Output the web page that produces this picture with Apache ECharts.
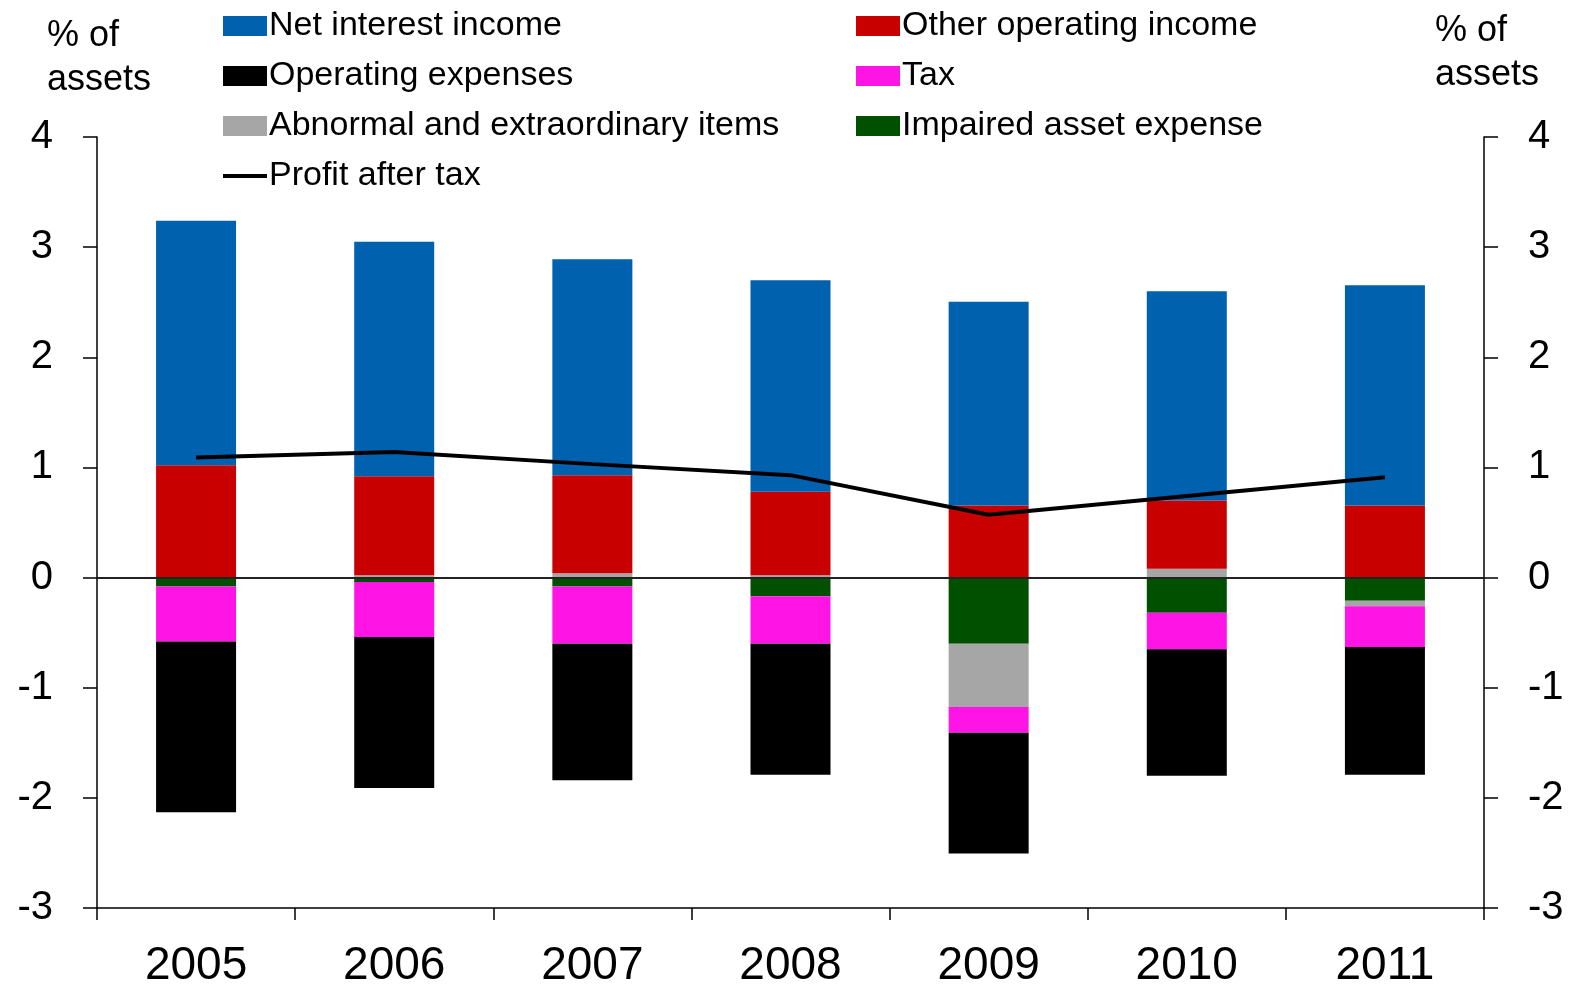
<!DOCTYPE html>
<html>
<head>
<meta charset="utf-8">
<script src="https://cdn.jsdelivr.net/npm/echarts@6/dist/echarts.min.js"></script>
<style>
html,body{margin:0;padding:0;background:#fff;}
#chart{width:1579px;height:989px;}
</style>
</head>
<body>
<div id="chart"></div>
<script>
var years = ['2005','2006','2007','2008','2009','2010','2011'];
var netInterest = [2.22, 2.13, 1.96, 1.92, 1.85, 1.90, 2.00];
var otherIncome = [1.02, 0.90, 0.89, 0.76, 0.655, 0.62, 0.655];
var opex = [-1.55, -1.37, -1.24, -1.19, -1.095, -1.15, -1.16];
var tax = [-0.50, -0.50, -0.52, -0.43, -0.235, -0.33, -0.37];
var abnormal = [0, 0.02, 0.04, 0.02, -0.575, 0.08, -0.05];
var impaired = [-0.08, -0.04, -0.08, -0.17, -0.60, -0.32, -0.21];
var profit = [1.09, 1.14, 1.03, 0.93, 0.57, 0.74, 0.91];

var FONT = '"Liberation Sans", Arial, sans-serif';
var chart = echarts.init(document.getElementById('chart'), null, {renderer: 'canvas'});

function bar(name, data, color, extra) {
  var s = {
    name: name, type: 'bar', stack: 'a', data: data,
    barWidth: 80,
    itemStyle: {color: color},
    emphasis: {disabled: true},
    animation: false
  };
  if (extra) for (var k in extra) s[k] = extra[k];
  return s;
}

var lineIcon = 'path://M0,0 L0.01,0 L0.01,0.01 Z M0,8 L44,8 L44,12 L0,12 Z M43.99,19.99 L44,19.99 L44,20 Z';
var legendText = {fontFamily: FONT, fontSize: 34, color: '#000', lineHeight: 36, padding: [0, 0, 0, -3]};

var option = {
  animation: false,
  textStyle: {fontFamily: FONT, color: '#000'},
  grid: {left: 97, right: 95, top: 137, bottom: 79, containLabel: false},
  legend: [
    {
      orient: 'vertical', left: 223, top: 8, padding: 0, itemWidth: 44, itemHeight: 20, itemGap: 14,
      icon: 'rect',
      textStyle: legendText,
      data: ['Net interest income', 'Operating expenses', 'Abnormal and extraordinary items',
             {name: 'Profit after tax', icon: lineIcon, itemStyle: {color: '#000'}}]
    },
    {
      orient: 'vertical', left: 856, top: 8, padding: 0, itemWidth: 44, itemHeight: 20, itemGap: 14,
      icon: 'rect',
      textStyle: legendText,
      data: ['Other operating income', 'Tax', 'Impaired asset expense']
    }
  ],
  graphic: [
    {type: 'text', left: 47, top: 14, style: {text: '% of\nassets', font: '36px ' + FONT, fill: '#000', lineHeight: 44}},
    {type: 'text', left: 1435, top: 9, style: {text: '% of\nassets', font: '36px ' + FONT, fill: '#000', lineHeight: 44}}
  ],
  xAxis: {
    type: 'category', data: years,
    axisLine: {onZero: false, lineStyle: {color: '#000', width: 1.5}},
    axisTick: {show: true, length: 12, lineStyle: {color: '#000', width: 1.5}},
    axisLabel: {fontFamily: FONT, fontSize: 46, color: '#000', margin: 35},
    splitLine: {show: false}
  },
  yAxis: [
    {
      type: 'value', min: -3, max: 4, interval: 1, position: 'left',
      axisLine: {show: true, lineStyle: {color: '#000', width: 1.5}},
      axisTick: {show: true, length: 14, lineStyle: {color: '#000', width: 1.5}},
      axisLabel: {fontFamily: FONT, fontSize: 40, color: '#000', margin: 44},
      splitLine: {show: false}
    },
    {
      type: 'value', min: -3, max: 4, interval: 1, position: 'right',
      axisLine: {show: true, lineStyle: {color: '#000', width: 1.5}},
      axisTick: {show: true, length: 14, lineStyle: {color: '#000', width: 1.5}},
      axisLabel: {fontFamily: FONT, fontSize: 40, color: '#000', margin: 44},
      splitLine: {show: false}
    }
  ],
  series: [
    bar('Impaired asset expense', impaired, '#005000', {
      markLine: {
        silent: true, symbol: ['none', 'none'], label: {show: false},
        lineStyle: {color: '#222', width: 2, type: 'solid'},
        data: [{yAxis: 0}]
      }
    }),
    bar('Abnormal and extraordinary items', abnormal, '#A6A6A6'),
    bar('Other operating income', otherIncome, '#C80000'),
    bar('Net interest income', netInterest, '#0061AF'),
    bar('Tax', tax, '#FF14E6'),
    bar('Operating expenses', opex, '#000000'),
    {
      name: 'Profit after tax', type: 'line', data: profit,
      symbol: 'none', showSymbol: false,
      lineStyle: {color: '#000', width: 4},
      itemStyle: {color: '#000'},
      z: 5, animation: false
    }
  ]
};
chart.setOption(option);
</script>
</body>
</html>
